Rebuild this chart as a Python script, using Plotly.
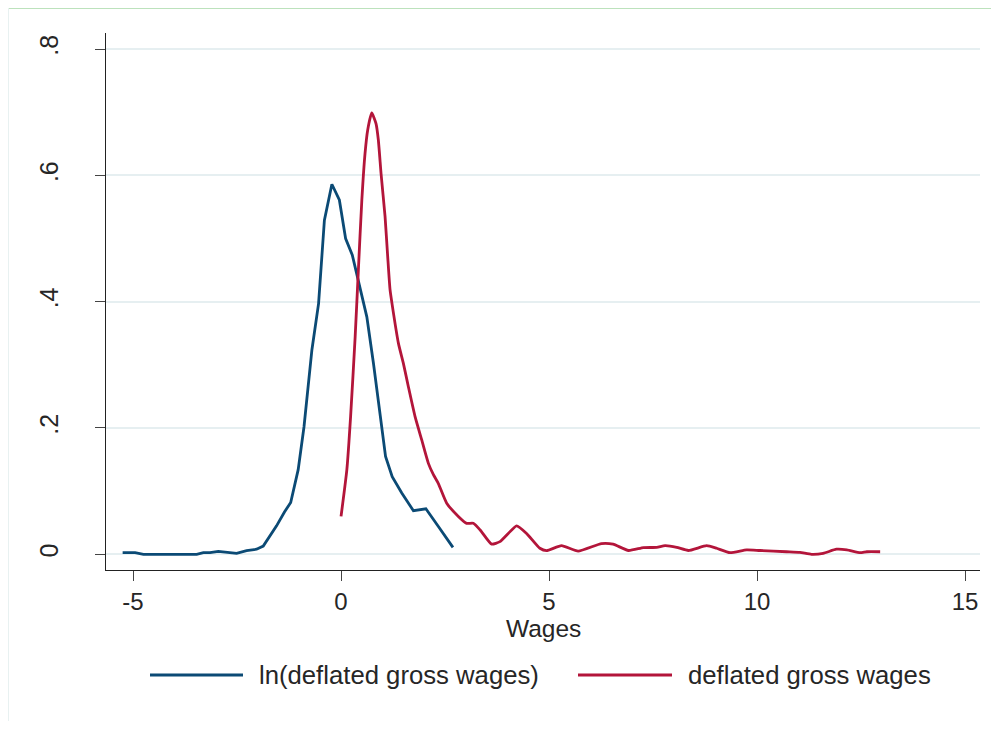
import plotly.graph_objects as go

# ln(deflated gross wages) density
x_ln = [-5.25, -4.95, -4.75, -3.47, -3.31, -3.15, -2.95, -2.51, -2.27, -2.03, -1.87,
        -1.55, -1.36, -1.21, -1.03, -0.89, -0.70, -0.54, -0.40, -0.22, -0.04, 0.11,
        0.27, 0.42, 0.62, 0.78, 0.94, 1.07, 1.23, 1.46, 1.74, 2.04, 2.34, 2.69]
y_ln = [0.0025, 0.0025, 0.0, 0.0, 0.0025, 0.0025, 0.0046, 0.0015, 0.0057, 0.008, 0.013,
        0.045, 0.067, 0.082, 0.134, 0.202, 0.324, 0.397, 0.529, 0.586, 0.561, 0.500,
        0.474, 0.434, 0.376, 0.302, 0.218, 0.155, 0.123, 0.097, 0.069, 0.072, 0.044, 0.011]

# deflated gross wages density
x_lv = [0.00, 0.14, 0.23, 0.34, 0.42, 0.50, 0.577, 0.641, 0.737, 0.841, 0.897,
        0.962, 1.058, 1.122, 1.178, 1.23, 1.38, 1.50, 1.62, 1.78, 1.94, 2.10, 2.22, 2.34,
        2.54, 2.82, 3.02, 3.18, 3.35, 3.62, 3.82, 4.02, 4.22, 4.46, 4.78, 4.94, 5.30,
        5.70, 6.26, 6.54, 6.91, 7.27, 7.59, 7.79, 8.07, 8.35, 8.79, 9.03, 9.35, 9.75,
        10.07, 10.71, 11.03, 11.31, 11.59, 11.91, 12.16, 12.48, 12.64, 12.96]
y_lv = [0.060, 0.134, 0.218, 0.345, 0.455, 0.561, 0.635, 0.672, 0.699, 0.682, 0.656,
        0.603, 0.535, 0.471, 0.419, 0.395, 0.334, 0.302, 0.265, 0.218, 0.181, 0.144, 0.126,
        0.112, 0.081, 0.060, 0.049, 0.049, 0.038, 0.016, 0.020, 0.033, 0.045, 0.033, 0.0095,
        0.0057, 0.0136, 0.005, 0.017, 0.016, 0.006, 0.0105, 0.011, 0.0136, 0.011, 0.006,
        0.0136, 0.0095, 0.0025, 0.007, 0.006, 0.004, 0.003, 0.0, 0.0015, 0.008, 0.007,
        0.0025, 0.004, 0.004]

series_names = ["ln(deflated gross wages)", "deflated gross wages"]
series_colors = ["#0b4a75", "#b3153a"]

x_tickvals = [-5, 0, 5, 10, 15]
x_ticktext = ["-5", "0", "5", "10", "15"]
y_tickvals = [0, 0.2, 0.4, 0.6, 0.8]
y_ticktext = ["0", ".2", ".4", ".6", ".8"]
x_title = "Wages"

# page body has an 8px margin; work in figure pixel coords = reference - 8
OFF = 8
W, H = 999 - 2 * OFF, 729 - 2 * OFF
L, R, T, B = 106 - OFF, 980 - OFF, 33 - OFF, 570 - OFF
pw, ph = R - L, B - T


def px_x(p):
    return (p - OFF - L) / pw


def px_y(p):
    return (B - (p - OFF)) / ph


fig = go.Figure()
fig.add_trace(go.Scatter(x=x_ln, y=y_ln, mode="lines", name=series_names[0],
                         line=dict(color=series_colors[0], width=2.8), showlegend=False))
fig.add_trace(go.Scatter(x=x_lv, y=y_lv, mode="lines", name=series_names[1],
                         line=dict(color=series_colors[1], width=2.8, shape="spline",
                                   smoothing=0.5), showlegend=False))

font_family = "Liberation Sans, Arial, sans-serif"
text_color = "#262626"

fig.update_layout(
    width=W, height=H,
    margin=dict(l=L, r=W - R, t=T, b=H - B, pad=0),
    paper_bgcolor="white", plot_bgcolor="white",
    font=dict(family=font_family, size=24, color=text_color),
    xaxis=dict(range=[-5.65, 15.36], tickvals=x_tickvals, ticktext=x_ticktext,
               showgrid=False, zeroline=False, showline=True, linecolor="#222",
               linewidth=1.2, ticks="outside", ticklen=10, tickcolor="#444", tickwidth=1.2,
               ticklabelstandoff=0),
    yaxis=dict(range=[-0.0249, 0.8255], tickvals=y_tickvals, ticktext=y_ticktext,
               showgrid=True, gridcolor="#e6eff1", gridwidth=2, zeroline=False,
               showline=True, linecolor="#222", linewidth=1.2, ticks="outside",
               ticklen=10, tickcolor="#444", tickwidth=1.2, tickangle=-90,
               ticklabelstandoff=27, tickfont=dict(size=25)),
)

shapes = []
# outer graph region border (top and left)
shapes.append(dict(type="line", xref="paper", yref="paper", x0=px_x(7.5), x1=px_x(999),
                   y0=px_y(8), y1=px_y(8), line=dict(color="#a6d9a6", width=1.5)))
shapes.append(dict(type="line", xref="paper", yref="paper", x0=px_x(8), x1=px_x(8),
                   y0=px_y(8), y1=px_y(729), line=dict(color="#e8f1f1", width=2)))

annotations = []
# x axis title
annotations.append(dict(xref="paper", yref="paper", x=0.5, y=px_y(628), text=x_title,
                        showarrow=False, xanchor="center", yanchor="middle",
                        font=dict(size=24.5, color=text_color, family=font_family)))

# manual legend
leg_items = [(150, 243, 259), (578, 672, 688)]
leg_y = 675
for (x0, x1, xt), name, col in zip(leg_items, series_names, series_colors):
    shapes.append(dict(type="line", xref="paper", yref="paper", x0=px_x(x0), x1=px_x(x1),
                       y0=px_y(leg_y), y1=px_y(leg_y), line=dict(color=col, width=2.8)))
    annotations.append(dict(xref="paper", yref="paper", x=px_x(xt) - 2 / pw, y=px_y(leg_y),
                            text=name, showarrow=False, xanchor="left", yanchor="middle",
                            font=dict(size=25.7, color=text_color, family=font_family)))

fig.update_layout(shapes=shapes, annotations=annotations)
fig.write_html("out.html")
